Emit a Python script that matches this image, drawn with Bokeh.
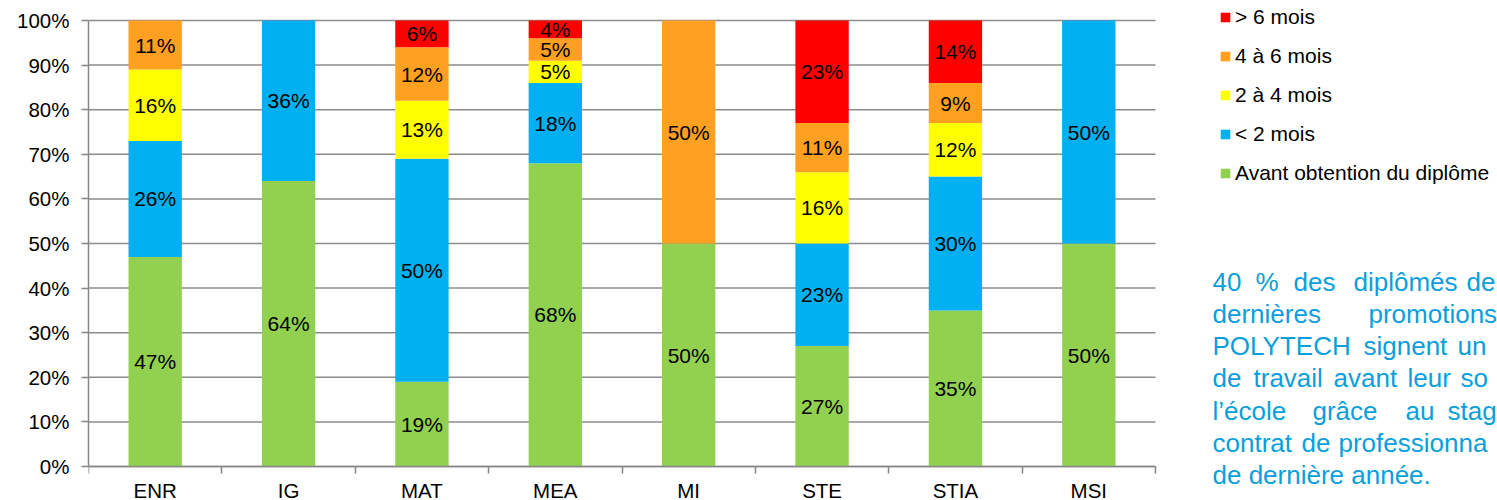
from bokeh.plotting import figure
from bokeh.models import (ColumnDataSource, Range1d, FixedTicker, PrintfTickFormatter,
                          Legend, LegendItem, Label)
from bokeh.embed import file_html
from bokeh.resources import INLINE
from bokeh.core.properties import value

# ---------------- data ----------------
categories = ["ENR", "IG", "MAT", "MEA", "MI", "STE", "STIA", "MSI"]
avant_diplome = [47, 64, 19, 68, 50, 27, 35, 50]
moins_2_mois = [26, 36, 50, 18, 0, 23, 30, 50]
de_2_a_4_mois = [16, 0, 13, 5, 0, 16, 12, 0]
de_4_a_6_mois = [11, 0, 12, 5, 50, 11, 9, 0]
plus_6_mois = [0, 0, 6, 4, 0, 23, 14, 0]
series_names = ["Avant obtention du diplôme", "< 2 mois", "2 à 4 mois", "4 à 6 mois", "> 6 mois"]
y_ticks = [0, 10, 20, 30, 40, 50, 60, 70, 80, 90, 100]

para_lines = [
    ["40", "%", "des", "diplômés", "de"],
    ["dernières", "promotions"],
    ["POLYTECH", "signent", "un"],
    ["de", "travail", "avant", "leur", "so"],
    ["l’école", "grâce", "au", "stag"],
    ["contrat", "de", "professionna"],
    ["de dernière année."],
]

# ---------------- styles / layout ----------------
colors = ["#92D050", "#00B0F0", "#FFFF00", "#FFA020", "#FF0000"]
FONT = "Liberation Sans"
GRID = "#8C8C8C"
AXIS = "#868686"
word_offsets = [[0, 43, 81, 141, 254], [0, 156], [0, 151, 245],
                [0, 41, 121, 195, 248], [0, 100, 193, 235], [0, 89, 126], [0]]
para_x = 1124          # px from frame left
para_base0 = 281       # pixel row of first baseline
para_step = 32.3       # line pitch in px

W, H = 1497, 500
LEFT = 88           # frame left
CHART_RIGHT = 1155  # right end of the bar area
TOP_PX = 20         # pixel row of 100 %
BOTTOM_PX = 466     # pixel row of 0 %

n = len(categories)
xs = list(range(1, n + 1))
x_unit = (CHART_RIGHT - LEFT) / n
x_max = 0.5 + (W - LEFT) / x_unit
y_unit = (BOTTOM_PX - TOP_PX) / 100
y_max = 100 + TOP_PX / y_unit
y_min = -(H - BOTTOM_PX) / y_unit

series = [avant_diplome, moins_2_mois, de_2_a_4_mois, de_4_a_6_mois, plus_6_mois]

p = figure(width=W, height=H, x_range=Range1d(0.5, x_max), y_range=Range1d(y_min, y_max),
           output_backend="svg", toolbar_location=None,
           min_border_left=LEFT, min_border_right=0, min_border_top=0, min_border_bottom=0)
p.outline_line_color = None
p.background_fill_color = "white"
p.xgrid.visible = False
p.ygrid.visible = False

# gridlines limited to the chart area
p.segment(x0=[0.5] * len(y_ticks), x1=[n + 0.5] * len(y_ticks), y0=y_ticks, y1=y_ticks,
          line_color=GRID, line_width=1.5)

renderers = []
lab_x, lab_y, lab_t = [], [], []
bottoms = [0] * n
for name, vals, col in zip(series_names, series, colors):
    tops = [b + v for b, v in zip(bottoms, vals)]
    src = ColumnDataSource(dict(x=xs, bottom=bottoms, top=tops))
    r = p.vbar(x="x", bottom="bottom", top="top", width=0.4, source=src,
               fill_color=col, line_color=None)
    renderers.append((name, r))
    for xi, b, v in zip(xs, bottoms, vals):
        if v > 0:
            lab_x.append(xi)
            lab_y.append(b + v / 2)
            lab_t.append(f"{v}%")
    bottoms = tops

p.text(x=lab_x, y=lab_y, text=lab_t, text_align="center", text_baseline="middle",
       text_font=value(FONT), text_font_size="21px", text_color="#000000")

# y axis
p.yaxis.bounds = (0, 100)
p.yaxis.ticker = FixedTicker(ticks=y_ticks)
p.yaxis.formatter = PrintfTickFormatter(format="%d%%")
p.yaxis.major_label_text_font = FONT
p.yaxis.major_label_text_font_size = "20.5px"
p.yaxis.major_label_text_color = "#000000"
p.yaxis.axis_line_color = AXIS
p.yaxis.axis_line_width = 1.5
p.yaxis.major_tick_line_color = AXIS
p.yaxis.major_tick_line_width = 1.5
p.yaxis.major_tick_out = 7
p.yaxis.major_tick_in = 0
p.yaxis.minor_tick_line_color = None
p.yaxis.major_label_standoff = 12

# x axis at y = 0: labels at bar centres, ticks at category boundaries
p.xaxis.fixed_location = 0
p.xaxis.bounds = (0.5, n + 0.5)
p.xaxis.ticker = FixedTicker(ticks=xs, minor_ticks=[x - 0.5 for x in xs] + [n + 0.5])
p.xaxis.major_label_overrides = {x: c for x, c in zip(xs, categories)}
p.xaxis.major_label_text_font = FONT
p.xaxis.major_label_text_font_size = "20.5px"
p.xaxis.major_label_text_color = "#000000"
p.xaxis.axis_line_color = AXIS
p.xaxis.axis_line_width = 1.5
p.xaxis.major_tick_line_color = None
p.xaxis.major_tick_out = 0
p.xaxis.major_tick_in = 0
p.xaxis.minor_tick_line_color = AXIS
p.xaxis.minor_tick_line_width = 1.5
p.xaxis.minor_tick_out = 7
p.xaxis.minor_tick_in = 0
p.xaxis.major_label_standoff = 5

# legend
items = [LegendItem(label=nm, renderers=[r]) for nm, r in reversed(renderers)]
legend = Legend(items=items, location=(1131, 315), label_text_font=FONT,
                label_text_font_size="21px", label_text_color="#000000",
                glyph_width=12, glyph_height=12, label_standoff=4, spacing=15,
                padding=0, margin=0, border_line_color=None, background_fill_alpha=0)
p.add_layout(legend, "center")

# paragraph
for i, (words, offs) in enumerate(zip(para_lines, word_offsets)):
    base_y = (BOTTOM_PX - (para_base0 + i * para_step)) / y_unit
    for w, o in zip(words, offs):
        p.add_layout(Label(x=para_x + o, y=base_y, x_units="screen", y_units="data",
                           text=w, text_font=FONT, text_font_size="26px",
                           text_color="#0A9FDB", text_baseline="alphabetic", text_align="left"))

open("out.html", "w").write(file_html(p, INLINE))
